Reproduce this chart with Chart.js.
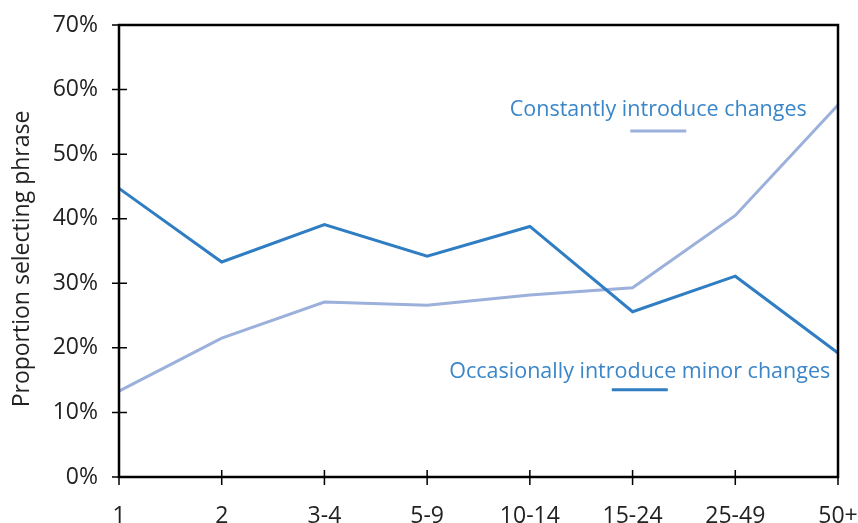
<!DOCTYPE html>
<html><head><meta charset="utf-8">
<script src="https://cdn.jsdelivr.net/npm/chart.js@4.4.1/dist/chart.umd.min.js"></script>
<style>html,body{margin:0;padding:0;background:#fff}#wrap{width:858px;height:523px}</style>
</head><body><div id="wrap"><canvas id="c" width="858" height="523"></canvas></div>
<script>
const categories = ["1","2","3-4","5-9","10-14","15-24","25-49","50+"];
const occasionally = [44.7, 33.3, 39.1, 34.2, 38.8, 25.6, 31.1, 19.2];
const constantly = [13.3, 21.5, 27.1, 26.6, 28.2, 29.3, 40.5, 57.6];
const yTicks = [0,10,20,30,40,50,60,70];
const seriesNames = ["Occasionally introduce minor changes","Constantly introduce changes"];
const yTitle = "Proportion selecting phrase";

const DARK = "#2f7dc3", LIGHT = "#9cb0dc", TEXT = "#3a86c8", FONT = "'Open Sans', 'Noto Sans', sans-serif";

// annotation anchors in data coordinates
const labelAnchors = [
  {text: seriesNames[1], x: 5.25, y: 56.9, color: LIGHT, lx: 5.25, ly: 53.6},
  {text: seriesNames[0], x: 5.07, y: 16.3, color: DARK, lx: 5.07, ly: 13.5}
];

const frame = {
  id: 'frame',
  afterDraw(chart) {
    const {ctx, chartArea: a, scales: {x, y}} = chart;
    ctx.save();
    ctx.strokeStyle = '#000'; ctx.lineWidth = 2.5;
    ctx.strokeRect(a.left, a.top, a.right - a.left, a.bottom - a.top);
    ctx.lineWidth = 1.5;
    ctx.beginPath();
    categories.forEach((c, i) => { const px = x.getPixelForValue(i); ctx.moveTo(px, a.bottom - 7); ctx.lineTo(px, a.bottom + 8); });
    yTicks.forEach(v => { const py = y.getPixelForValue(v); ctx.moveTo(a.left - 7, py); ctx.lineTo(a.left + 8, py); });
    ctx.stroke();
    ctx.font = "21.5px " + FONT;
    ctx.textAlign = 'center'; ctx.textBaseline = 'middle';
    labelAnchors.forEach(l => {
      ctx.fillStyle = TEXT;
      ctx.fillText(l.text, x.getPixelForValue(l.x), y.getPixelForValue(l.y));
      const cx = x.getPixelForValue(l.lx), cy = y.getPixelForValue(l.ly);
      ctx.strokeStyle = l.color; ctx.lineWidth = 3;
      ctx.beginPath(); ctx.moveTo(cx - 28, cy); ctx.lineTo(cx + 28, cy); ctx.stroke();
    });
    // y-axis title
    ctx.translate(22, (a.top + a.bottom) / 2 + 8);
    ctx.rotate(-Math.PI / 2);
    ctx.fillStyle = '#222';
    ctx.font = "23px " + FONT;
    ctx.fillText(yTitle, 0, 0);
    ctx.restore();
  }
};

new Chart(document.getElementById('c'), {
  type: 'line',
  data: {
    labels: categories,
    datasets: [
      {label: seriesNames[0], data: occasionally, borderColor: DARK, borderWidth: 3, pointRadius: 0, tension: 0, fill: false},
      {label: seriesNames[1], data: constantly, borderColor: LIGHT, borderWidth: 3, pointRadius: 0, tension: 0, fill: false}
    ]
  },
  options: {
    responsive: false, animation: false,
    layout: {padding: {top: 25, right: 20, left: 0, bottom: 0}},
    plugins: {legend: {display: false}, tooltip: {enabled: false}},
    scales: {
      x: {
        offset: false,
        grid: {display: false, drawTicks: false}, border: {display: false},
        ticks: {color: '#222', font: {family: FONT, size: 23}, padding: 26, maxRotation: 0, autoSkip: false},
        afterFit(s) { s.height = 46; s.paddingLeft = 0; s.paddingRight = 0; }
      },
      y: {
        min: 0, max: 70,
        grid: {display: false, drawTicks: false}, border: {display: false},
        ticks: {stepSize: 10, color: '#222', font: {family: FONT, size: 23}, padding: 21, callback: v => v + '%'},
        afterFit(s) { s.width = 119; s.paddingTop = 0; s.paddingBottom = 0; }
      }
    }
  },
  plugins: [frame]
});
</script></body></html>
